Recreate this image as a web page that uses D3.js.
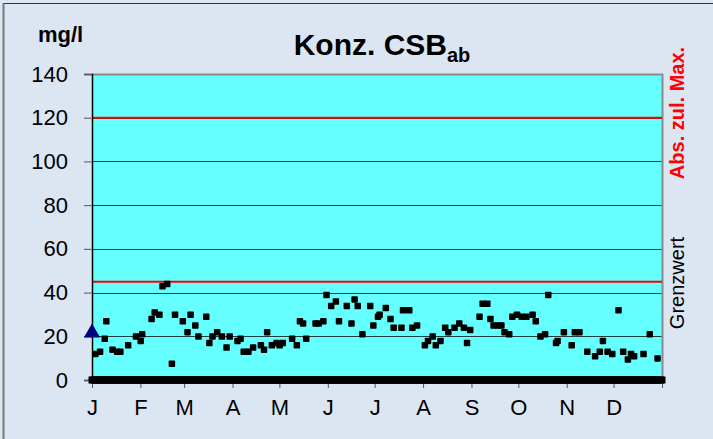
<!DOCTYPE html>
<html>
<head>
<meta charset="utf-8">
<script src="https://cdn.jsdelivr.net/npm/d3@7"></script>
<style>
  html, body { margin: 0; padding: 0; background: #DCE6F2; }
  svg { display: block; font-family: "Liberation Sans", Arial, sans-serif; }
</style>
</head>
<body>
<svg id="chart" width="713" height="439"></svg>
<script>
// ---- data ----
const monthLabels = ["J","F","M","A","M","J","J","A","S","O","N","D"];
const monthStarts = [0,31,59,90,120,151,181,212,243,273,304,334,365];
const yTicks = [0,20,40,60,80,100,120,140];
const limitMax = 120;   // Abs. zul. Max.
const limitGrenz = 45;  // Grenzwert
const triangleDay = 0;
const triangleValue = 22;
const sampleDays = [2,5,8,9,13,16,18,23,28,31,32,38,40,43,45,48,51,53,58,61,63,66,68,73,75,77,80,83,86,88,93,95,97,100,103,108,110,112,115,118,120,122,128,131,133,135,137,143,145,148,150,153,156,158,163,166,168,170,173,178,180,183,184,188,191,193,198,199,203,205,208,213,215,218,220,223,226,228,232,235,238,240,242,248,250,253,255,257,260,262,264,267,269,272,275,278,282,284,287,290,292,297,298,302,307,309,312,317,322,325,327,330,333,337,340,343,345,347,353,357,362];
const sampleValues = [12,13,19,27,14,13,13,16,20,18,21,28,31,30,43,44,7.5,30,27,22,30,25,20,29,17,20,22,20,15,20,18,19,13,13,15,16,14,22,16,17,16,17,19,16,27,26,19,26,26,27,39,34,36,27,34,26,37,34,21,34,25,29,30,33,28,24,24,32,32,24,25,16,18,20,16,18,24,22,24,26,24,17,23,29,35,35,28,25,25,25,22,21,29,30,29,29,30,27,20,21,39,17,18,22,16,22,22,13,11,13,18,13,12,32,13,9.5,12,11,12,21,10];
const zeroDays = d3.range(0, 366);

// ---- layout ----
const svg = d3.select("#chart");
const W = 713, H = 439;
const pL = 92, pR = 662, pT = 74, pB = 380;

svg.append("rect").attr("x", 0).attr("y", 0).attr("width", W).attr("height", H).attr("fill", "#DCE6F2");
// outer frame (top/left visible)
svg.append("line").attr("x1", 3).attr("x2", W).attr("y1", 3.5).attr("y2", 3.5).attr("stroke", "#333").attr("stroke-width", 1);
svg.append("line").attr("x1", 3.5).attr("x2", 3.5).attr("y1", 3).attr("y2", H).attr("stroke", "#777").attr("stroke-width", 2);

const x = d3.scaleLinear().domain([0, 365]).range([pL, pR]);
const y = d3.scaleLinear().domain([0, 140]).range([pB, pT]);

// plot area
svg.append("rect").attr("x", pL).attr("y", pT).attr("width", pR - pL).attr("height", pB - pT)
  .attr("fill", "#66FFFF");

// gridlines
svg.append("g").selectAll("line").data(yTicks.filter(t => t > 0 && t < 140)).join("line")
  .attr("x1", pL).attr("x2", pR)
  .attr("y1", d => Math.round(y(d)) + 0.5).attr("y2", d => Math.round(y(d)) + 0.5)
  .attr("stroke", "#1a4040").attr("stroke-width", 1);

// plot border (top & right gray)
svg.append("path")
  .attr("d", `M${pL},${pT + 0.5}H${pR + 0.5}V${pB}`)
  .attr("fill", "none").attr("stroke", "#8a8a8a").attr("stroke-width", 2);

// limit lines
svg.append("g").selectAll("line").data([limitMax, limitGrenz]).join("line")
  .attr("x1", pL).attr("x2", pR)
  .attr("y1", d => y(d)).attr("y2", d => y(d))
  .attr("stroke", "#FF0000").attr("stroke-width", 2);

// y axis
const yAxis = d3.axisLeft(y).tickValues(yTicks).tickSize(8).tickPadding(16).tickFormat(d3.format("d"));
const gy = svg.append("g").attr("transform", `translate(${pL},0)`).call(yAxis);
gy.select(".domain").attr("stroke", "#000").attr("stroke-width", 1.5);
gy.selectAll(".tick line").attr("stroke", "#555");
gy.selectAll(".tick text").attr("font-size", 22).attr("fill", "#000")
  .attr("font-family", "'Liberation Sans', Arial, sans-serif");

// x axis
const xAxis = d3.axisBottom(x).tickValues(monthStarts).tickSize(8).tickPadding(11)
  .tickFormat((d, i) => i < monthLabels.length ? monthLabels[i] : "");
const gx = svg.append("g").attr("transform", `translate(0,${pB})`).call(xAxis);
gx.select(".domain").remove();
gx.selectAll(".tick line").attr("stroke", "#555");
gx.selectAll(".tick text").attr("font-size", 22).attr("fill", "#000")
  .attr("font-family", "'Liberation Sans', Arial, sans-serif");

// zero series (thick band of square markers)
svg.append("g").selectAll("rect").data(zeroDays).join("rect")
  .attr("x", d => x(d) - 3.5).attr("y", y(0) - 3.5)
  .attr("width", 7).attr("height", 7).attr("fill", "#000");

// measured values
svg.append("g").selectAll("rect").data(sampleDays.map((d, i) => ({ d, v: sampleValues[i] }))).join("rect")
  .attr("x", p => x(p.d) - 3).attr("y", p => y(p.v) - 3)
  .attr("width", 6.5).attr("height", 6.5).attr("rx", 0.8).attr("fill", "#000");

// triangle marker
svg.append("path")
  .attr("d", d3.symbol().type(d3.symbolTriangle).size(115)())
  .attr("transform", `translate(${x(triangleDay)},${y(triangleValue) + 1})`)
  .attr("fill", "#000080");

// title
const title = svg.append("text").attr("x", 382).attr("y", 55).attr("text-anchor", "middle")
  .attr("font-size", 30).attr("font-weight", "bold").attr("fill", "#000");
title.append("tspan").text("Konz. CSB");
title.append("tspan").attr("font-size", 20).attr("dy", 7).text("ab");

// unit label
svg.append("text").attr("x", 38).attr("y", 42).attr("font-size", 22).attr("font-weight", "bold")
  .attr("fill", "#000").text("mg/l");

// right labels
svg.append("text").attr("transform", "translate(684,113) rotate(-90)").attr("text-anchor", "middle")
  .attr("font-size", 20).attr("font-weight", "bold").attr("fill", "#FF0000").text("Abs. zul. Max.");
svg.append("text").attr("transform", "translate(684,283) rotate(-90)").attr("text-anchor", "middle")
  .attr("font-size", 20).attr("fill", "#000").text("Grenzwert");
</script>
</body>
</html>
